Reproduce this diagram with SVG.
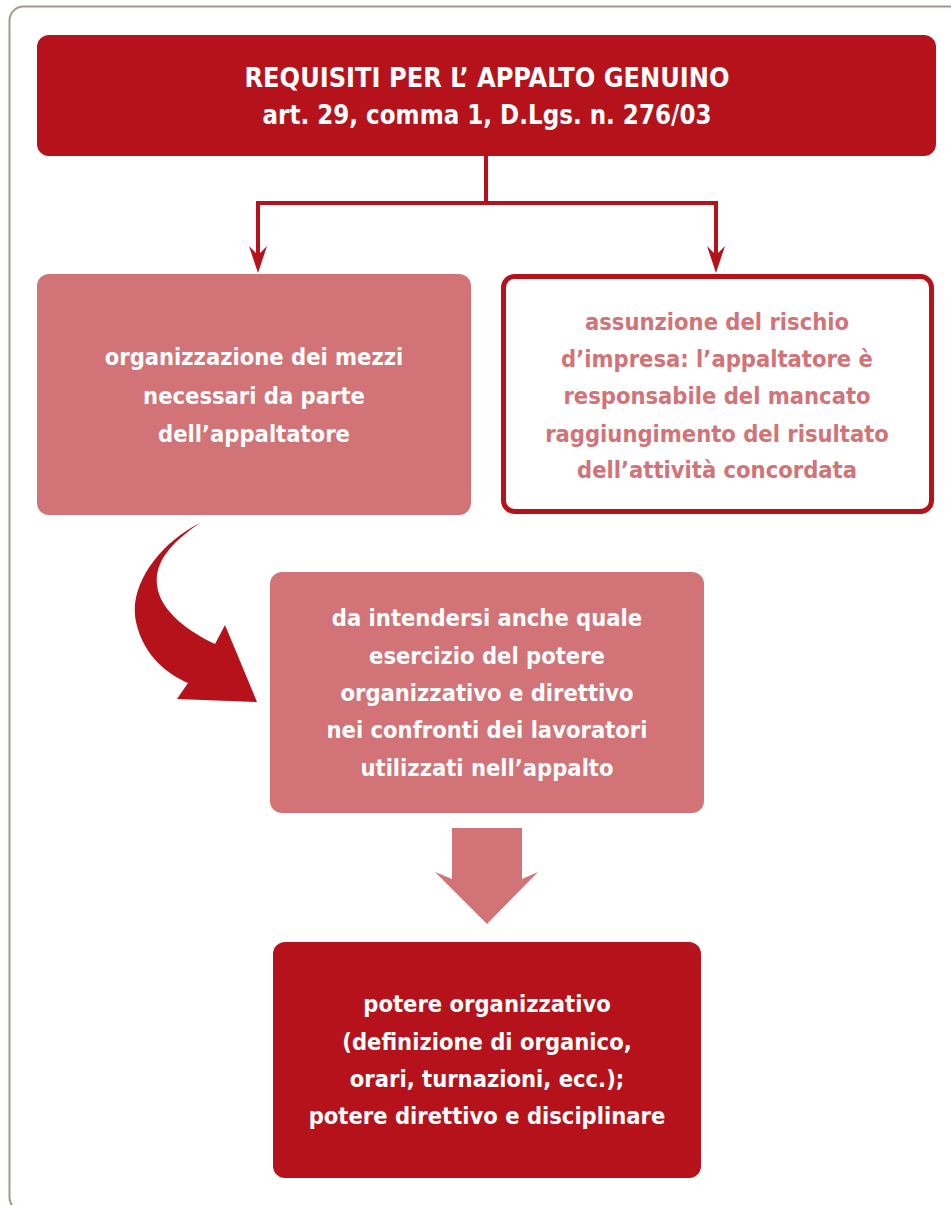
<svg xmlns="http://www.w3.org/2000/svg" width="951" height="1205" viewBox="0 0 951 1205">
<defs>
<style>
.t{font-family:"DejaVu Sans Condensed","Liberation Sans",sans-serif;font-weight:bold;text-anchor:middle;font-size:23.5px}
.h{font-size:26px}
.w{fill:#ffffff}
.p{fill:#d27377}
.dark{fill:#b5121b}
.light{fill:#d27377}
.conn{fill:none;stroke:#b5121b;stroke-width:4}
</style>
</defs>
<rect x="9.5" y="6.5" width="1000" height="1205" rx="14" fill="#ffffff" stroke="#a49a8c" stroke-width="2"/>
<g id="connectors">
<path class="conn" d="M486,156 V203 H258 V265"/>
<path class="conn" d="M486,203 H716 V265"/>
<path d="M258,255 L267,246 L258,273 L249,246 Z" fill="#b5121b"/>
<path d="M716,255 L725,246 L716,273 L707,246 Z" fill="#b5121b"/>
<path id="curved-arrow" class="dark" d="M200,523 C160,543 128,585 136,622 C144,658 170,675 188,683 L177,699 L257,702 L225,625 L215,644 C190,632 160,612 157,585 C154,560 175,540 200,523 Z"/>
<path id="down-arrow" class="light" d="M452,828 L522,828 L522,879 L538,872 L487,924 L435,872 L452,879 Z"/>
</g>
<g id="n-top">
<rect class="dark" x="37" y="35" width="899" height="121" rx="12"/>
<text class="t h w" x="487" y="87" textLength="485" lengthAdjust="spacingAndGlyphs">REQUISITI PER L’ APPALTO GENUINO</text>
<text class="t h w" x="487" y="124" textLength="449" lengthAdjust="spacingAndGlyphs">art. 29, comma 1, D.Lgs. n. 276/03</text>
</g>
<g id="n-left">
<rect class="light" x="37" y="274" width="434" height="241" rx="12"/>
<text class="t w" x="254" y="365">organizzazione dei mezzi</text>
<text class="t w" x="254" y="404">necessari da parte</text>
<text class="t w" x="254" y="442">dell’appaltatore</text>
</g>
<g id="n-right">
<rect x="503.5" y="276.5" width="428" height="235" rx="11" fill="#ffffff" stroke="#b5121b" stroke-width="5"/>
<text class="t p" x="717" y="330">assunzione del rischio</text>
<text class="t p" x="717" y="367">d’impresa: l’appaltatore è</text>
<text class="t p" x="717" y="404">responsabile del mancato</text>
<text class="t p" x="717" y="442">raggiungimento del risultato</text>
<text class="t p" x="717" y="478">dell’attività concordata</text>
</g>
<g id="n-mid">
<rect class="light" x="270" y="572" width="434" height="241" rx="12"/>
<text class="t w" x="487" y="626">da intendersi anche quale</text>
<text class="t w" x="487" y="664">esercizio del potere</text>
<text class="t w" x="487" y="701">organizzativo e direttivo</text>
<text class="t w" x="487" y="738">nei confronti dei lavoratori</text>
<text class="t w" x="487" y="776">utilizzati nell’appalto</text>
</g>
<g id="n-bottom">
<rect class="dark" x="273" y="942" width="428" height="236" rx="12"/>
<text class="t w" x="487" y="1012">potere organizzativo</text>
<text class="t w" x="487" y="1050">(definizione di organico,</text>
<text class="t w" x="487" y="1087">orari, turnazioni, ecc.);</text>
<text class="t w" x="487" y="1124">potere direttivo e disciplinare</text>
</g>
</svg>
